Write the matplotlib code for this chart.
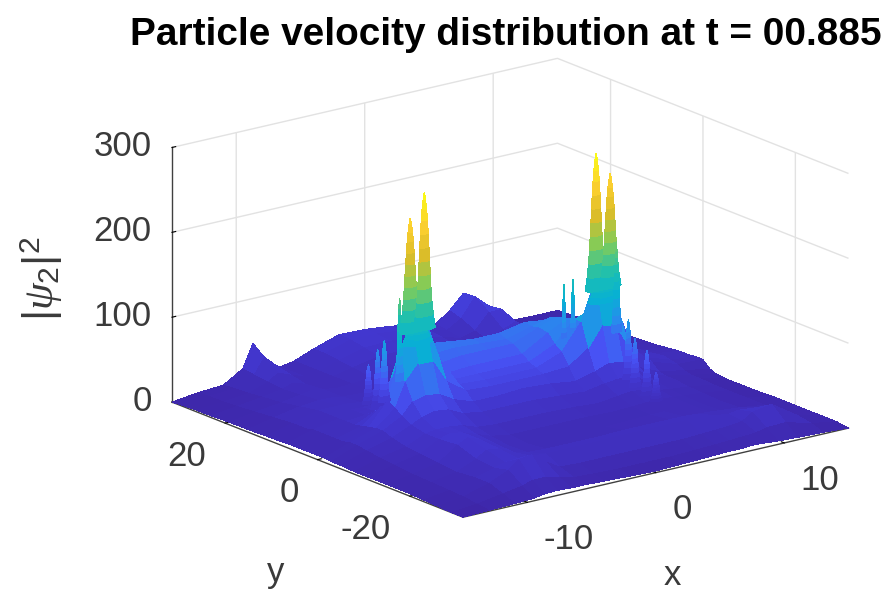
import numpy as np
import matplotlib
matplotlib.use('Agg')
import matplotlib.pyplot as plt
from matplotlib.colors import LinearSegmentedColormap, Normalize

plt.rcParams['font.family'] = ['Liberation Sans', 'DejaVu Sans']
plt.rcParams['mathtext.fontset'] = 'custom'
plt.rcParams['mathtext.rm'] = 'Liberation Sans'
plt.rcParams['mathtext.it'] = 'Liberation Serif:italic'

title = 'Particle velocity distribution at t = 00.885'
x_ticks = [-10, 0, 10]
y_ticks = [-20, 0, 20]
z_ticks = [0, 100, 200, 300]

# heights, one row per y value
x_grid = [-15, -13, -11, -9.5, -8.7, -7.7, -6.6, -5.5, -4, -2, 0, 2, 4, 5.5, 6.6, 7.7, 8.7, 9.5, 11, 13, 15]
y_grid = [-31.5, -29, -26, -23, -19, -15, -11, -8, -5, -3, -1.5, 0, 1.5, 3, 5, 6.5, 8, 11, 15, 19, 23, 26, 29, 31.5]
z_grid = [
    [0, 1, 2, 3, 5, 6, 5, 5, 4, 3, 2, 3, 4, 5, 5, 6, 5, 4, 3, 2, 0],
    [0, 3, 8, 12, 16, 16, 12, 8, 7, 6, 6, 6, 7, 8, 9, 10, 11, 14, 15, 7, 2],
    [1, 5, 14, 24, 34, 36, 24, 14, 13, 13, 13, 13, 13, 14, 15, 16, 18, 26, 30, 10, 2],
    [2, 6, 14, 20, 24, 25, 24, 23, 23, 23, 24, 24, 24, 24, 23, 22, 20, 22, 20, 9, 2],
    [3, 7, 12, 22, 30, 28, 20, 16, 15, 15, 15, 16, 16, 16, 16, 15, 14, 13, 11, 7, 2],
    [3, 8, 14, 30, 36, 30, 22, 15, 12, 11, 11, 11, 12, 13, 13, 13, 13, 12, 10, 7, 2],
    [3, 10, 16, 28, 32, 30, 24, 18, 14, 14, 14, 14, 13, 14, 15, 15, 14, 13, 11, 7, 1],
    [3, 12, 18, 28, 30, 30, 28, 22, 20, 20, 20, 19, 17, 20, 22, 20, 16, 14, 12, 7, 1],
    [4, 14, 22, 32, 38, 42, 40, 32, 28, 28, 28, 26, 24, 28, 30, 28, 22, 18, 14, 8, 1],
    [4, 16, 26, 38, 52, 56, 54, 44, 36, 36, 38, 36, 32, 38, 44, 42, 30, 20, 14, 8, 2],
    [5, 16, 26, 44, 72, 90, 90, 62, 46, 44, 44, 44, 46, 62, 86, 82, 54, 26, 16, 10, 5],
    [5, 14, 24, 50, 100, 135, 135, 85, 50, 48, 48, 48, 60, 90, 135, 130, 80, 45, 24, 14, 13],
    [5, 14, 22, 40, 72, 100, 96, 65, 52, 52, 52, 52, 66, 90, 95, 92, 68, 42, 26, 16, 13],
    [5, 14, 20, 30, 36, 56, 56, 54, 56, 58, 58, 58, 76, 88, 70, 66, 60, 44, 28, 18, 12],
    [5, 14, 20, 22, 24, 34, 36, 46, 62, 66, 66, 66, 78, 85, 60, 52, 50, 42, 24, 16, 12],
    [5, 14, 20, 22, 23, 28, 30, 46, 70, 72, 70, 68, 76, 82, 55, 46, 45, 41, 23, 15, 11],
    [4, 12, 20, 22, 22, 22, 26, 48, 80, 76, 72, 72, 78, 75, 50, 42, 42, 40, 22, 14, 10],
    [4, 12, 20, 20, 20, 18, 18, 22, 36, 40, 36, 32, 30, 34, 28, 36, 40, 38, 20, 12, 8],
    [3, 10, 16, 18, 18, 16, 15, 15, 16, 17, 17, 16, 15, 16, 22, 28, 36, 34, 16, 10, 7],
    [3, 8, 12, 16, 18, 16, 14, 15, 17, 20, 20, 18, 15, 14, 16, 22, 30, 24, 12, 8, 6],
    [2, 6, 10, 14, 18, 14, 13, 15, 20, 26, 27, 24, 18, 13, 14, 24, 30, 20, 8, 6, 5],
    [2, 5, 8, 16, 24, 18, 12, 15, 22, 30, 31, 28, 22, 15, 20, 38, 38, 16, 6, 5, 5],
    [1, 5, 7, 18, 36, 22, 12, 15, 24, 33, 33, 30, 24, 18, 28, 50, 36, 14, 5, 4, 4],
    [0, 4, 6, 20, 47, 24, 12, 15, 24, 34, 33, 30, 24, 20, 32, 49, 30, 14, 4, 3, 3],
]

# narrow spikes on top of the grid, back to front
spike_x = [-7.8, -7.8, -8.0, -8.5, -7.2, -7.71, -6.65, 4.9, 5.6, 7.2, 6.65, 7.71, 8.2, 7.4, 7.2, 7.4, 7.4]
spike_y = [9.0, 7.0, 5.0, 0.3, 0.1, 0.2, 0.1, 2.0, 2.0, -0.1, -0.1, -0.2, -0.2, -5.0, -7.0, -9.0, -11.0]
spike_foot = [22, 24, 34, 70, 110, 125, 125, 70, 80, 110, 125, 125, 70, 28, 24, 18, 15]
spike_top = [67, 89, 105, 167, 172, 258, 285, 132, 136, 172, 285, 258, 170, 97, 80, 70, 48]
spike_size = [0.55, 0.55, 0.55, 0.4, 1.4, 1, 1, 0.25, 0.25, 1.4, 1, 1, 0.5, 0.55, 0.55, 0.55, 0.55]
spike_levels = [0, 0.1, 0.2, 0.3, 0.4, 0.5, 0.6, 0.7, 0.8, 0.88, 0.95, 1]
spike_radii = [0.8, 0.66, 0.56, 0.49, 0.44, 0.39, 0.34, 0.29, 0.23, 0.17, 0.09, 0.02]

# parula, low end a bit darker to fit the picture
parula = LinearSegmentedColormap.from_list('parula', [
    (0, (0.2422, 0.1504, 0.6603)), (0.12, (0.26, 0.22, 0.82)), (0.2, (0.281, 0.323, 0.958)),
    (0.3, (0.154, 0.55, 0.93)), (0.4, (0.03, 0.69, 0.83)), (0.5, (0.1, 0.75, 0.7)),
    (0.625, (0.5044, 0.7993, 0.3480)), (0.75, (0.8634, 0.7406, 0.1596)),
    (0.875, (0.9892, 0.8136, 0.1885)), (1, (0.9769, 0.9839, 0.0805))])
norm = Normalize(0, 285)

fig = plt.figure(figsize=(8.9, 5.93), dpi=100)
ax = fig.add_axes([0.163, -0.101, 0.799, 1.199], projection='3d', computed_zorder=False)
ax.set_proj_type('ortho')
ax.view_init(elev=17.6, azim=-127.4)
ax.set_box_aspect((485, 479, 267))

X, Y = np.meshgrid(x_grid, y_grid)
Z = np.array(z_grid, dtype=float)
ax.plot_surface(X, Y, Z, rstride=1, cstride=1, cmap=parula, norm=norm, linewidth=0,
                antialiased=False, shade=False, zorder=1)

# each spike is a stack of rings
angles = np.linspace(0, 2 * np.pi, 15)
for i in range(len(spike_x)):
    r = np.array(spike_radii) * spike_size[i]
    h = spike_foot[i] + (spike_top[i] - spike_foot[i]) * np.array(spike_levels)
    sx = spike_x[i] + np.outer(r, np.cos(angles))
    sy = spike_y[i] + np.outer(r, np.sin(angles))
    sz = np.outer(h, np.ones(len(angles)))
    ax.plot_surface(sx, sy, sz, rstride=1, cstride=1, cmap=parula, norm=norm, linewidth=0,
                    antialiased=False, shade=False, zorder=2 + i)

ax.set_xlim(-15, 15, view_margin=0)
ax.set_ylim(-31.5, 31.5, view_margin=0)
ax.set_zlim(0, 300, view_margin=0)
ax.set_xticks(x_ticks)
ax.set_yticks(y_ticks)
ax.set_zticks(z_ticks)
ax.set_xticklabels([str(v) for v in x_ticks], ha='left', va='top')
ax.set_yticklabels([str(v) for v in y_ticks], ha='right', va='top')
ax.set_zticklabels([str(v) for v in z_ticks], ha='right', va='center')
ax.tick_params(axis='x', labelsize=25, labelcolor='#3a3a3a', pad=7)
ax.tick_params(axis='y', labelsize=25, labelcolor='#3a3a3a', pad=5)
ax.tick_params(axis='z', labelsize=25, labelcolor='#3a3a3a', pad=0)
ax.zaxis.set_ticks_position('upper')

for axis in [ax.xaxis, ax.yaxis, ax.zaxis]:
    axis.set_pane_color((1, 1, 1, 0))
    axis.pane.set_edgecolor((1, 1, 1, 0))
    axis.line.set_color('#404040')
    axis.line.set_linewidth(1.0)
    axis._axinfo['grid']['color'] = '#e2e2e2'
    axis._axinfo['grid']['linewidth'] = 1.0
    axis._axinfo['tick']['color'] = '#404040'
    axis._axinfo['tick']['inward_factor'] = 0.0
    axis._axinfo['tick']['outward_factor'] = 0.12

fig.text(0.5685, 0.941, title, fontsize=27.9, fontweight='bold', color='black', ha='center', va='center')
fig.text(0.755, 0.03, 'x', fontsize=25, color='#3a3a3a', ha='center', va='center')
fig.text(0.31, 0.035, 'y', fontsize=25, color='#3a3a3a', ha='center', va='center')
fig.text(0.047, 0.53, r'$|\psi_2|^2$', fontsize=31, color='#3a3a3a', rotation=90, ha='center', va='center')

fig.savefig('out.png', dpi=100)
